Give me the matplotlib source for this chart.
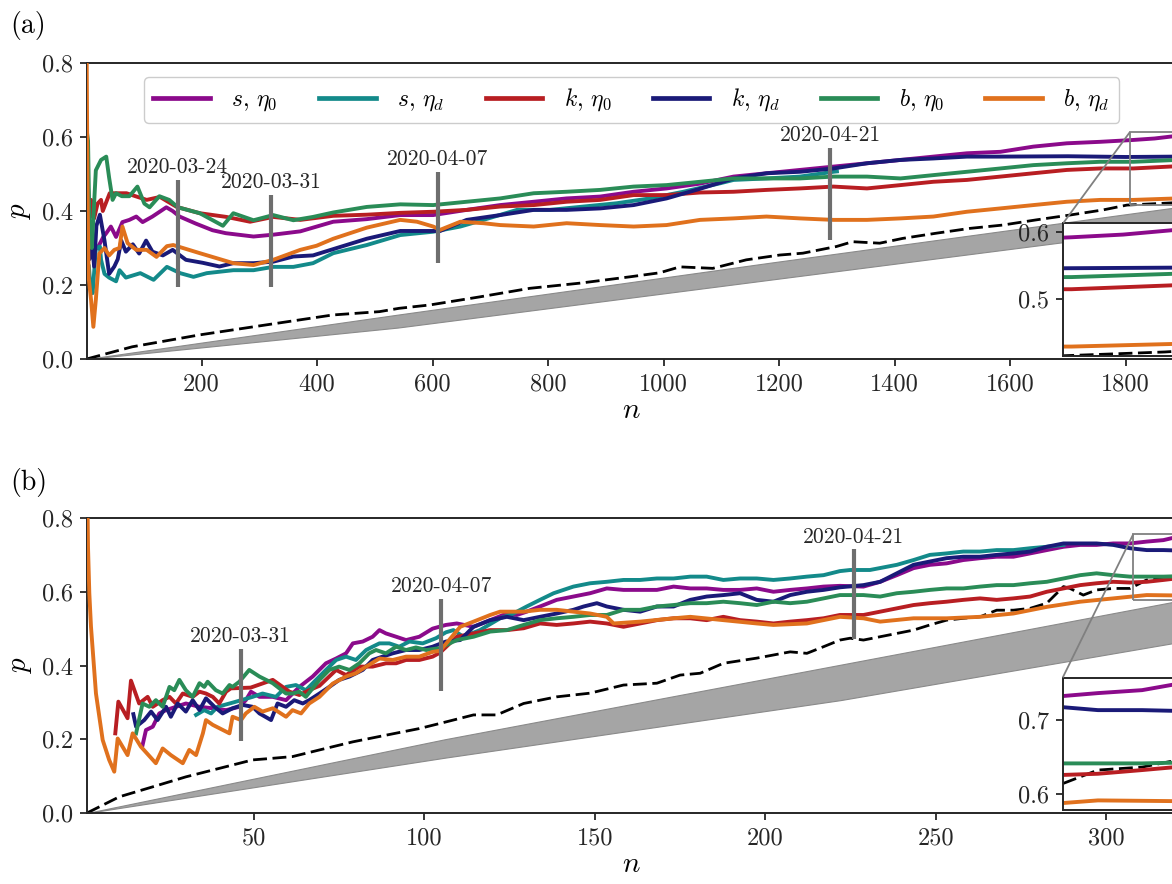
import matplotlib
matplotlib.use('Agg')
import matplotlib.pyplot as plt
from mpl_toolkits.axes_grid1.inset_locator import mark_inset

plt.rcParams['font.family'] = 'serif'
plt.rcParams['font.serif'] = ['cmr10']
plt.rcParams['mathtext.fontset'] = 'cm'
plt.rcParams['axes.unicode_minus'] = False
plt.rcParams['axes.edgecolor'] = '0.15'
plt.rcParams['axes.linewidth'] = 1.4
plt.rcParams['xtick.color'] = '0.15'
plt.rcParams['ytick.color'] = '0.15'
plt.rcParams['xtick.major.size'] = 5
plt.rcParams['ytick.major.size'] = 5
plt.rcParams['xtick.major.width'] = 1.3
plt.rcParams['ytick.major.width'] = 1.3

# ---------------- panel (a) data ----------------
a_purple_n = [20, 30, 35, 43, 52, 63, 75, 87, 98, 115, 139, 150, 162, 190, 219, 242, 290, 324, 371, 428,
              486, 544, 601, 659, 717, 775, 832, 890, 948, 1005, 1063, 1121, 1178, 1236, 1294, 1352, 1410,
              1467, 1525, 1583, 1640, 1698, 1756, 1813, 1850, 1888]
a_purple_p = [0.30, 0.33, 0.34, 0.358, 0.33, 0.37, 0.376, 0.385, 0.37, 0.385, 0.41, 0.40, 0.385, 0.366, 0.348,
              0.34, 0.331, 0.336, 0.345, 0.371, 0.378, 0.389, 0.389, 0.403, 0.416, 0.425, 0.434, 0.439, 0.452,
              0.461, 0.474, 0.493, 0.502, 0.511, 0.52, 0.529, 0.538, 0.547, 0.556, 0.56, 0.574, 0.583, 0.587,
              0.592, 0.596, 0.603]

a_teal_n = [5, 8, 11.5, 17, 24, 26, 32, 40, 52, 58, 69, 94, 117, 140, 163, 186, 209, 255, 290, 324, 359, 393,
            428, 486, 544, 601, 648, 688, 746, 803, 861, 919, 976, 1034, 1098, 1121, 1178, 1236, 1294, 1300]
a_teal_p = [0.25, 0.19, 0.178, 0.30, 0.304, 0.268, 0.23, 0.22, 0.21, 0.24, 0.22, 0.232, 0.214, 0.249, 0.232,
            0.222, 0.232, 0.24, 0.24, 0.249, 0.249, 0.259, 0.286, 0.308, 0.335, 0.344, 0.358, 0.376, 0.403,
            0.403, 0.412, 0.421, 0.434, 0.452, 0.475, 0.484, 0.488, 0.493, 0.506, 0.507]

a_red_n = [3, 6, 8.7, 14, 20, 26, 29, 41, 70, 105, 128, 157, 197, 243, 284, 324, 371, 428, 486, 544, 601, 659,
           717, 775, 832, 890, 948, 1005, 1063, 1121, 1178, 1236, 1294, 1352, 1410, 1467, 1525, 1583, 1640,
           1698, 1756, 1813, 1888]
a_red_p = [0.48, 0.38, 0.43, 0.38, 0.42, 0.43, 0.40, 0.448, 0.448, 0.43, 0.438, 0.411, 0.394, 0.384, 0.371,
           0.384, 0.376, 0.387, 0.39, 0.395, 0.398, 0.403, 0.412, 0.416, 0.425, 0.43, 0.443, 0.443, 0.45, 0.452,
           0.457, 0.461, 0.466, 0.461, 0.47, 0.479, 0.484, 0.493, 0.502, 0.511, 0.515, 0.515, 0.521]

a_navy_n = [3, 6, 9, 14, 18, 24, 32, 40, 49, 55, 61, 69, 81, 92, 104, 115, 133, 150, 173, 202, 231, 255, 290,
            324, 359, 393, 428, 486, 544, 613, 659, 717, 775, 832, 890, 948, 1005, 1063, 1121, 1178, 1236,
            1294, 1352, 1410, 1467, 1525, 1583, 1700, 1800, 1888]
a_navy_p = [0.30, 0.27, 0.34, 0.25, 0.36, 0.39, 0.32, 0.23, 0.25, 0.27, 0.32, 0.29, 0.31, 0.285, 0.32, 0.29,
            0.28, 0.295, 0.268, 0.26, 0.25, 0.259, 0.259, 0.263, 0.277, 0.28, 0.297, 0.325, 0.346, 0.346, 0.376,
            0.389, 0.403, 0.403, 0.407, 0.416, 0.434, 0.46, 0.488, 0.502, 0.506, 0.515, 0.529, 0.538, 0.542,
            0.547, 0.547, 0.548, 0.546, 0.547]

a_green_n = [1, 3.5, 6, 10, 17, 26, 35, 40, 46, 52, 62, 75, 89, 101, 110, 127, 144, 159, 197, 237, 255, 290,
             324, 359, 393, 428, 486, 544, 601, 659, 717, 775, 832, 890, 948, 1005, 1063, 1121, 1178, 1236,
             1294, 1352, 1410, 1467, 1525, 1583, 1640, 1698, 1756, 1813, 1888]
a_green_p = [0.62, 0.59, 0.35, 0.30, 0.51, 0.538, 0.547, 0.49, 0.43, 0.448, 0.44, 0.44, 0.466, 0.42, 0.41, 0.44,
             0.43, 0.41, 0.394, 0.36, 0.394, 0.375, 0.389, 0.375, 0.384, 0.396, 0.411, 0.418, 0.416, 0.425,
             0.434, 0.448, 0.452, 0.457, 0.466, 0.47, 0.479, 0.488, 0.488, 0.488, 0.493, 0.493, 0.488, 0.497,
             0.506, 0.515, 0.524, 0.529, 0.533, 0.533, 0.538]

a_orange_n = [1, 2, 3, 4.6, 8.7, 12.7, 17, 23, 32, 40, 49, 58, 63, 72, 87, 105, 122, 140, 151, 197, 255, 290,
              324, 371, 399, 428, 486, 544, 573, 601, 613, 648, 688, 717, 775, 832, 890, 948, 1005, 1063, 1121,
              1178, 1236, 1294, 1352, 1410, 1467, 1525, 1583, 1640, 1698, 1756, 1813, 1888]
a_orange_p = [0.85, 0.6, 0.4, 0.22, 0.16, 0.087, 0.16, 0.285, 0.30, 0.28, 0.295, 0.30, 0.358, 0.313, 0.295,
              0.295, 0.276, 0.305, 0.308, 0.286, 0.259, 0.254, 0.268, 0.295, 0.306, 0.325, 0.355, 0.376, 0.371,
              0.358, 0.349, 0.371, 0.367, 0.362, 0.358, 0.367, 0.362, 0.358, 0.362, 0.376, 0.38, 0.385, 0.38,
              0.376, 0.376, 0.38, 0.385, 0.398, 0.407, 0.416, 0.425, 0.43, 0.43, 0.434]

a_dash_n = [1, 80, 196, 311, 427, 508, 542, 595, 682, 768, 855, 941, 993, 1028, 1085, 1143, 1201, 1241, 1299,
            1327, 1374, 1414, 1472, 1530, 1587, 1645, 1703, 1761, 1802, 1880, 1888]
a_dash_p = [0.0, 0.033, 0.065, 0.092, 0.119, 0.128, 0.137, 0.146, 0.168, 0.191, 0.205, 0.222, 0.233, 0.249,
            0.245, 0.268, 0.281, 0.286, 0.304, 0.317, 0.313, 0.326, 0.340, 0.353, 0.362, 0.376, 0.389, 0.403,
            0.416, 0.422, 0.423]

a_band_n = [1, 540, 1183, 1888]
a_band_lo = [0.0, 0.085, 0.214, 0.355]
a_band_hi = [0.0, 0.12, 0.26, 0.41]

a_dates = ['2020-03-24', '2020-03-31', '2020-04-07', '2020-04-21']
a_mark_n = [159, 320, 609, 1288]
a_mark_lo = [0.195, 0.195, 0.259, 0.322]
a_mark_hi = [0.484, 0.443, 0.506, 0.571]

# ---------------- panel (b) data ----------------
b_purple_n = [17.3, 18.3, 20.3, 22.2, 24.2, 27.1, 30, 34, 37.9, 41.8, 45.7, 47.6, 49.1, 51.6, 55.5, 59.4, 63.3,
              67.2, 71.1, 74.1, 77, 79, 81.9, 84.8, 86.8, 88.7, 91.7, 94.6, 98.5, 102.4, 106.3, 109.5, 114.4,
              119.3, 124.2, 127.1, 130, 133.9, 138.8, 143.7, 148.6, 153.5, 158.4, 163.3, 168.2, 173.1, 178,
              182.8, 187.7, 192.6, 197.5, 202.4, 207.3, 212.2, 217.1, 221.9, 228.8, 233.7, 238.6, 243.5, 248.3,
              253.2, 258.1, 263, 267.9, 272.8, 277.7, 282.6, 287.5, 292.4, 297.2, 302.1, 307, 311.9, 316.8, 320.5]
b_purple_p = [0.184, 0.225, 0.234, 0.27, 0.279, 0.288, 0.297, 0.288, 0.284, 0.279, 0.288, 0.306, 0.329, 0.315,
              0.315, 0.306, 0.342, 0.37, 0.406, 0.419, 0.433, 0.46, 0.465, 0.478, 0.496, 0.487, 0.478, 0.469,
              0.478, 0.5, 0.51, 0.514, 0.505, 0.523, 0.541, 0.537, 0.546, 0.56, 0.578, 0.587, 0.596, 0.609,
              0.605, 0.605, 0.605, 0.614, 0.609, 0.609, 0.605, 0.605, 0.609, 0.6, 0.605, 0.609, 0.614, 0.616,
              0.614, 0.627, 0.645, 0.664, 0.673, 0.677, 0.686, 0.691, 0.695, 0.695, 0.704, 0.713, 0.722, 0.727,
              0.727, 0.731, 0.731, 0.736, 0.74, 0.748]

b_teal_n = [33, 35.4, 37.4, 39.3, 44, 49.6, 52.5, 56.4, 59.4, 62.3, 65.2, 68.2, 71.1, 74.1, 77, 79.9, 82.9,
            84.8, 86.8, 89.7, 92.6, 95.6, 99.5, 103.4, 106.3, 108.5, 111.4, 116.3, 122.2, 126.1, 130, 133.9,
            137.9, 140.8, 143.7, 148.6, 153.5, 158.4, 163.3, 168.2, 173.1, 178, 182.8, 187.7, 192.6, 197.5,
            202.4, 207.3, 212.2, 217.1, 221.9, 224.9, 230.7, 238.6, 243.5, 248.3, 253.2, 258.1, 263, 267.9,
            272.8, 277.7, 282.6, 287.5]
b_teal_p = [0.266, 0.279, 0.27, 0.288, 0.30, 0.315, 0.324, 0.315, 0.342, 0.347, 0.333, 0.361, 0.388, 0.415,
            0.424, 0.415, 0.442, 0.451, 0.46, 0.46, 0.451, 0.465, 0.46, 0.474, 0.49, 0.496, 0.478, 0.496, 0.528,
            0.541, 0.56, 0.578, 0.596, 0.605, 0.614, 0.623, 0.627, 0.632, 0.632, 0.636, 0.636, 0.641, 0.641,
            0.632, 0.636, 0.636, 0.632, 0.636, 0.641, 0.645, 0.656, 0.659, 0.659, 0.673, 0.686, 0.7, 0.704,
            0.709, 0.709, 0.713, 0.713, 0.718, 0.722, 0.727]

b_red_n = [9.3, 10.2, 12.9, 13.9, 16.3, 18.8, 20.3, 23.2, 25.2, 27.1, 29.1, 32, 34, 35.9, 37.9, 39.8, 41.8,
           43.2, 49, 55.5, 58.4, 60.4, 63.3, 66.2, 69.2, 74.1, 77, 80.9, 84.8, 88.7, 91.7, 94.6, 98.5, 102.4,
           104.6, 109.5, 114.4, 119.3, 124.2, 129.1, 133.9, 138.8, 143.7, 148.6, 153.5, 158.4, 163.3, 168.2,
           173.1, 178, 182.8, 187.7, 192.6, 197.5, 202.4, 207.3, 212.2, 217.1, 221.9, 228.8, 233.7, 238.6,
           243.5, 248.3, 253.2, 258.1, 263, 267.9, 272.8, 277.7, 282.6, 287.5, 292.4, 297.2, 302.1, 307,
           311.9, 316.8, 320.5]
b_red_p = [0.216, 0.302, 0.257, 0.359, 0.297, 0.315, 0.288, 0.306, 0.315, 0.297, 0.324, 0.315, 0.329, 0.324,
           0.315, 0.297, 0.329, 0.338, 0.34, 0.361, 0.342, 0.329, 0.32, 0.333, 0.345, 0.388, 0.374, 0.397, 0.397,
           0.406, 0.406, 0.415, 0.415, 0.424, 0.435, 0.478, 0.487, 0.496, 0.496, 0.501, 0.514, 0.51, 0.514,
           0.519, 0.514, 0.505, 0.514, 0.523, 0.528, 0.528, 0.523, 0.532, 0.523, 0.519, 0.514, 0.519, 0.523,
           0.528, 0.537, 0.537, 0.546, 0.555, 0.564, 0.569, 0.573, 0.578, 0.582, 0.578, 0.582, 0.587, 0.6,
           0.609, 0.618, 0.623, 0.627, 0.625, 0.627, 0.632, 0.636]

b_navy_n = [14.6, 15.4, 17.8, 19.8, 21.7, 24.2, 25.6, 27.6, 30, 32, 34, 35.9, 38.4, 40.8, 43.7, 46.7, 49.6,
            51.6, 55, 56.9, 59.4, 61.8, 64.3, 66.2, 69.2, 72.1, 75, 78, 81.9, 84.8, 87.7, 90.7, 94.6, 98.5,
            102.4, 106.3, 110.5, 114.4, 119.3, 124.2, 129.1, 133.9, 138.8, 143.7, 146.7, 150.6, 153.5, 158.4,
            163.3, 168.2, 173.1, 178, 182.8, 187.7, 192.6, 197.5, 202.4, 207.3, 212.2, 217.1, 221.9, 228.8,
            233.7, 238.6, 243.5, 248.3, 253.2, 258.1, 263, 267.9, 272.8, 277.7, 282.6, 287.5, 292.4, 297.2,
            302.1, 307, 311.9, 316.8, 320.5]
b_navy_p = [0.268, 0.234, 0.252, 0.275, 0.252, 0.288, 0.261, 0.297, 0.275, 0.306, 0.279, 0.311, 0.288, 0.27,
            0.284, 0.293, 0.288, 0.27, 0.252, 0.297, 0.288, 0.306, 0.297, 0.306, 0.324, 0.342, 0.361, 0.37,
            0.388, 0.415, 0.424, 0.433, 0.442, 0.442, 0.451, 0.465, 0.469, 0.505, 0.523, 0.532, 0.523, 0.532,
            0.541, 0.551, 0.56, 0.569, 0.56, 0.551, 0.546, 0.56, 0.56, 0.578, 0.587, 0.591, 0.596, 0.578, 0.573,
            0.591, 0.6, 0.605, 0.612, 0.618, 0.627, 0.65, 0.673, 0.682, 0.691, 0.695, 0.695, 0.7, 0.704, 0.709,
            0.722, 0.731, 0.731, 0.731, 0.727, 0.718, 0.713, 0.713, 0.712]

b_green_n = [15.4, 17.3, 19.3, 21.2, 23.2, 25.2, 26.6, 28.1, 30, 32, 34, 35.4, 36.4, 38.8, 40.8, 42.8, 43.7,
             45.7, 48.6, 51.6, 55.5, 59.4, 61.3, 63.3, 65.2, 67.2, 69.2, 72.1, 75, 78, 80.9, 83.8, 85.8, 88.7,
             91.7, 94.6, 97.5, 100.5, 104.4, 109.5, 114.4, 119.3, 124.2, 129.1, 133.9, 138.8, 143.7, 148.6,
             153.5, 158.4, 163.3, 168.2, 173.1, 178, 182.8, 187.7, 192.6, 197.5, 202.4, 207.3, 212.2, 217.1,
             221.9, 228.8, 233.7, 238.6, 243.5, 248.3, 253.2, 258.1, 263, 267.9, 272.8, 277.7, 282.6, 287.5,
             292.4, 297.2, 302.1, 307, 311.9, 316.8, 320.5]
b_green_p = [0.216, 0.297, 0.288, 0.306, 0.288, 0.342, 0.333, 0.361, 0.333, 0.315, 0.352, 0.342, 0.356, 0.333,
             0.324, 0.347, 0.342, 0.356, 0.388, 0.37, 0.352, 0.324, 0.324, 0.329, 0.315, 0.338, 0.361, 0.388,
             0.397, 0.388, 0.406, 0.433, 0.442, 0.433, 0.451, 0.442, 0.449, 0.442, 0.447, 0.469, 0.478, 0.492,
             0.496, 0.51, 0.523, 0.528, 0.532, 0.537, 0.537, 0.551, 0.551, 0.56, 0.564, 0.569, 0.569, 0.573,
             0.569, 0.564, 0.573, 0.569, 0.573, 0.582, 0.591, 0.591, 0.587, 0.596, 0.6, 0.605, 0.609, 0.609,
             0.614, 0.618, 0.618, 0.623, 0.627, 0.636, 0.645, 0.65, 0.645, 0.641, 0.641, 0.641, 0.642]

b_orange_n = [1, 1.3, 1.68, 2.17, 3.63, 5.6, 7.5, 9.0, 10.0, 12.9, 14.4, 16.8, 21.2, 23.2, 25.6, 29.1, 31, 33,
              35, 35.9, 37.9, 42.8, 43.7, 46.2, 47.6, 50.1, 52.5, 55.5, 59.4, 61.3, 63.8, 66.2, 69.2, 73.1, 77,
              79.9, 82.9, 86.8, 90.7, 94.6, 98.5, 102.4, 104.6, 110.5, 114.4, 119.3, 122.2, 129.1, 133.9, 138.8,
              143.7, 148.6, 153.5, 155.5, 163.3, 173.1, 178, 187.7, 197.5, 202.4, 212.2, 221.9, 228.8, 233.7,
              243.5, 253.2, 263, 272.8, 282.6, 292.4, 302.1, 311.9, 320.5]
b_orange_p = [0.95, 0.72, 0.596, 0.505, 0.324, 0.198, 0.144, 0.112, 0.202, 0.157, 0.216, 0.18, 0.135, 0.175,
              0.157, 0.135, 0.171, 0.157, 0.216, 0.252, 0.239, 0.216, 0.261, 0.252, 0.27, 0.288, 0.275, 0.284,
              0.261, 0.279, 0.27, 0.297, 0.315, 0.351, 0.37, 0.379, 0.397, 0.419, 0.415, 0.424, 0.424, 0.437,
              0.44, 0.505, 0.519, 0.537, 0.546, 0.546, 0.551, 0.551, 0.546, 0.541, 0.532, 0.514, 0.519, 0.528,
              0.532, 0.523, 0.514, 0.51, 0.514, 0.532, 0.528, 0.519, 0.528, 0.528, 0.532, 0.541, 0.559, 0.573,
              0.582, 0.591, 0.59]

b_dash_n = [1, 10.5, 20.3, 30, 39.8, 49.6, 55, 61.3, 69.2, 79, 88.7, 98.5, 104.6, 114.4, 121.2, 129.1, 138.8,
            148.6, 158.4, 168.2, 175, 180.9, 187.7, 197.5, 207.3, 212.2, 217.1, 221.9, 224.9, 228.8, 233.7,
            238.6, 243.5, 248.3, 253.2, 258.1, 263, 267.9, 272.8, 277.7, 282.6, 287.5, 289.4, 293.3, 297.2,
            302.1, 307, 311.9, 316.8, 320.5]
b_dash_p = [0.0, 0.044, 0.071, 0.098, 0.121, 0.144, 0.148, 0.153, 0.171, 0.193, 0.211, 0.229, 0.243, 0.266,
            0.266, 0.297, 0.315, 0.325, 0.347, 0.352, 0.374, 0.379, 0.406, 0.42, 0.437, 0.433, 0.451, 0.469,
            0.474, 0.469, 0.478, 0.487, 0.496, 0.51, 0.523, 0.528, 0.532, 0.55, 0.55, 0.555, 0.569, 0.614,
            0.609, 0.591, 0.605, 0.609, 0.609, 0.632, 0.636, 0.645]

b_band_n = [1, 106, 222, 320.5]
b_band_lo = [0.0, 0.15, 0.306, 0.462]
b_band_hi = [0.0, 0.2, 0.402, 0.574]

b_dates = ['2020-03-31', '2020-04-07', '2020-04-21']
b_mark_n = [46.1, 104.9, 226]
b_mark_lo = [0.196, 0.332, 0.471]
b_mark_hi = [0.444, 0.58, 0.715]

labels = ['$s,\\,\\eta_0$', '$s,\\,\\eta_d$', '$k,\\,\\eta_0$', '$k,\\,\\eta_d$', '$b,\\,\\eta_0$', '$b,\\,\\eta_d$']
colors = ['#8b0a8b', '#138a8a', '#b81e22', '#1a1a78', '#2a8c57', '#e0711d']

LW = 2.8


def draw_panel(ax, series, dash_n, dash_p, band_n, band_lo, band_hi, xlim):
    ax.fill_between(band_n, band_lo, band_hi, facecolor='#a5a5a5', edgecolor='#8a8a8a', lw=0.8, zorder=1)
    ax.plot(dash_n, dash_p, color='black', lw=2.0, ls=(0, (5, 2)), zorder=2)
    for (n, p), lab, c in zip(series, labels, colors):
        ax.plot(n, p, color=c, lw=LW, label=lab, zorder=3)
    ax.set_xlim(*xlim)
    ax.set_ylim(0, 0.8)


def draw_marks(ax, dates, mark_n, mark_lo, mark_hi):
    for d, n, lo, hi in zip(dates, mark_n, mark_lo, mark_hi):
        ax.plot([n, n], [lo, hi], color='#6e6e6e', lw=3, solid_capstyle='butt', zorder=4)
        ax.annotate(d, (n, hi), xytext=(0, 2), textcoords='offset points',
                    ha='center', va='bottom', fontsize=15.5, color='0.15')


def draw_inset(ax, series, dash_n, dash_p, band_n, band_lo, band_hi, xlim, ylim, yticks):
    axins = ax.inset_axes([0.896, 0.0101, 0.1035, 0.449])
    axins.fill_between(band_n, band_lo, band_hi, facecolor='#a5a5a5', edgecolor='#8a8a8a', lw=0.8)
    axins.plot(dash_n, dash_p, color='black', lw=2.0, ls=(0, (5, 2)))
    for (n, p), c in zip(series, colors):
        axins.plot(n, p, color=c, lw=LW)
    axins.set_xlim(*xlim)
    axins.set_ylim(*ylim)
    axins.set_xticks([])
    axins.set_yticks(yticks)
    axins.set_yticklabels([f'{t:.1f}' for t in yticks])
    axins.tick_params(axis='y', labelsize=17.5, pad=5)
    mark_inset(ax, axins, loc1=2, loc2=4, fc='none', ec='0.5', lw=1.3, zorder=5)
    return axins


fig = plt.figure(figsize=(11.72, 8.84), dpi=100)

# ---------------- (a) ----------------
ax_a = fig.add_axes([86.6 / 1172, 1 - 359 / 884, 1090 / 1172, 296 / 884])
series_a = [(a_purple_n, a_purple_p), (a_teal_n, a_teal_p), (a_red_n, a_red_p),
            (a_navy_n, a_navy_p), (a_green_n, a_green_p), (a_orange_n, a_orange_p)]
draw_panel(ax_a, series_a, a_dash_n, a_dash_p, a_band_n, a_band_lo, a_band_hi, (1, 1888))
draw_marks(ax_a, a_dates, a_mark_n, a_mark_lo, a_mark_hi)
ax_a.set_xticks([200, 400, 600, 800, 1000, 1200, 1400, 1600, 1800])
ax_a.set_yticks([0.0, 0.2, 0.4, 0.6, 0.8])
ax_a.set_yticklabels(['0.0', '0.2', '0.4', '0.6', '0.8'])
ax_a.tick_params(labelsize=17.5, pad=5)
ax_a.set_xlabel('$n$', fontsize=21, labelpad=2)
ax_a.set_ylabel('$p$', fontsize=21, labelpad=6)
leg = ax_a.legend(ncol=6, loc='upper center', fontsize=17, handlelength=2.4, columnspacing=1.75,
                  handletextpad=0.9, borderaxespad=0.6, frameon=True, fancybox=True,
                  edgecolor='0.8', framealpha=1.0)
for h in leg.get_lines():
    h.set_linewidth(3.4)
draw_inset(ax_a, series_a, a_dash_n, a_dash_p, a_band_n, a_band_lo, a_band_hi,
           (1807, 1888), (0.416, 0.613), [0.5, 0.6])
fig.text(10 / 1172, 1 - 26 / 884, '(a)', fontsize=20, va='center', ha='left')

# ---------------- (b) ----------------
ax_b = fig.add_axes([87 / 1172, 1 - 813 / 884, 1089 / 1172, 295 / 884])
series_b = [(b_purple_n, b_purple_p), (b_teal_n, b_teal_p), (b_red_n, b_red_p),
            (b_navy_n, b_navy_p), (b_green_n, b_green_p), (b_orange_n, b_orange_p)]
draw_panel(ax_b, series_b, b_dash_n, b_dash_p, b_band_n, b_band_lo, b_band_hi, (1, 320.5))
draw_marks(ax_b, b_dates, b_mark_n, b_mark_lo, b_mark_hi)
ax_b.set_xticks([50, 100, 150, 200, 250, 300])
ax_b.set_yticks([0.0, 0.2, 0.4, 0.6, 0.8])
ax_b.set_yticklabels(['0.0', '0.2', '0.4', '0.6', '0.8'])
ax_b.tick_params(labelsize=17.5, pad=5)
ax_b.set_xlabel('$n$', fontsize=21, labelpad=2)
ax_b.set_ylabel('$p$', fontsize=21, labelpad=6)
draw_inset(ax_b, series_b, b_dash_n, b_dash_p, b_band_n, b_band_lo, b_band_hi,
           (308, 320.5), (0.578, 0.757), [0.6, 0.7])
fig.text(10 / 1172, 1 - 483 / 884, '(b)', fontsize=20, va='center', ha='left')

fig.savefig('out.png', dpi=100)
